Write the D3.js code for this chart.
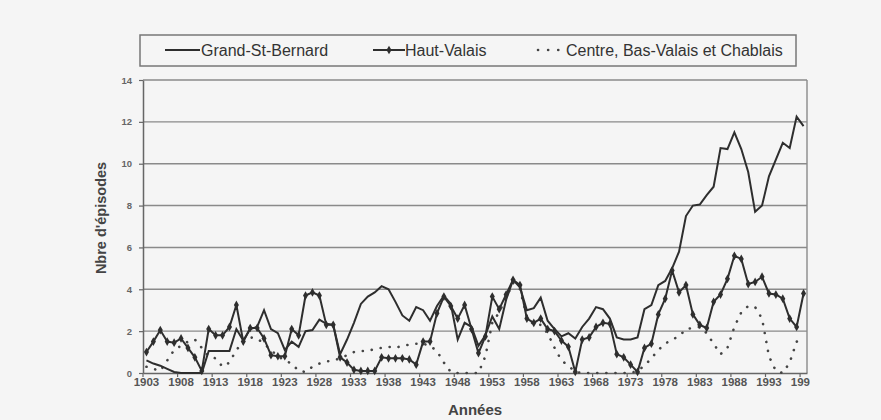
<!DOCTYPE html>
<html>
<head>
<meta charset="utf-8">
<script src="https://cdn.jsdelivr.net/npm/d3@7"></script>
<style>
  body { margin: 0; background: #f5f5f5; }
  svg { display: block; font-family: "Liberation Sans", Arial, sans-serif; }
</style>
</head>
<body>
<div class="chart-container"></div>
<script>
var width = 881;
var height = 420;

var years = d3.range(1903, 1999);
var tickYears = [1903, 1908, 1913, 1918, 1923, 1928, 1933, 1938, 1943, 1948, 1953, 1958, 1963, 1968, 1973, 1978, 1983, 1988, 1993, 1998];
var yTicks = [0, 2, 4, 6, 8, 10, 12, 14];
var seriesNames = ["Grand-St-Bernard", "Haut-Valais", "Centre, Bas-Valais et Chablais"];

var grandStBernard = [
  0.6, 0.45, 0.35, 0.2, 0.05, 0, 0, 0, 0, 1.05,
  1.05, 1.05, 1.05, 2.1, 1.55, 2.1, 2.2, 3.0, 2.1, 1.9,
  1.1, 1.5, 1.25, 2.0, 2.05, 2.55, 2.35, 2.3, 0.9, 1.6,
  2.4, 3.3, 3.65, 3.85, 4.15, 4.0, 3.4, 2.75, 2.5, 3.15,
  3.0, 2.5, 3.2, 3.7, 3.3, 1.6, 2.4, 2.2, 1.3, 1.8,
  2.7, 2.1, 3.5, 4.45, 4.1, 3.0, 3.1, 3.6, 2.5, 2.1,
  1.75, 1.9, 1.65, 2.2, 2.6, 3.15, 3.05, 2.6, 1.7, 1.6,
  1.6, 1.7, 3.05, 3.25, 4.2, 4.4, 5.0, 5.8, 7.5, 8.0,
  8.05, 8.5, 8.9, 10.75, 10.7, 11.5, 10.7, 9.6, 7.7, 8.0,
  9.4, 10.2, 11.0, 10.75, 12.25, 11.8
];
var hautValais = [
  1.0, 1.5, 2.05, 1.5, 1.45, 1.65, 1.2, 0.75, 0.1, 2.1,
  1.8, 1.8, 2.2, 3.25, 1.5, 2.15, 2.15, 1.65, 0.85, 0.8,
  0.8, 2.1, 1.8, 3.7, 3.85, 3.7, 2.3, 2.3, 0.75, 0.5,
  0.15, 0.1, 0.1, 0.1, 0.75, 0.7, 0.7, 0.7, 0.65, 0.4,
  1.5, 1.5, 2.85, 3.65, 3.2, 2.6, 3.25, 2.1, 0.95, 1.75,
  3.65, 3.05, 3.75, 4.45, 4.2, 2.6, 2.4, 2.6, 2.1, 2.0,
  1.55, 1.25, 0.05, 1.6, 1.7, 2.2, 2.4, 2.35, 0.9, 0.75,
  0.4, 0.05, 1.2, 1.4, 2.8, 3.55, 4.9, 3.85, 4.2, 2.8,
  2.3, 2.15, 3.4, 3.75, 4.5, 5.6, 5.45, 4.25, 4.35, 4.6,
  3.8, 3.75, 3.55, 2.6, 2.2, 3.8
];
var centreBasValais = [
  0.3, 0.2, 0.1, 0.6, 1.1, 1.3, 1.5, 1.6, 1.2, 0.8,
  0.7, 0.3, 0.5, 1.1, 1.5, 1.7, 1.65, 1.4, 1.1, 0.8,
  0.6, 0.45, 0.1, 0.05, 0.3, 0.45, 0.55, 0.6, 0.7, 0.85,
  1.0, 1.05, 1.05, 1.15, 1.2, 1.25, 1.2, 1.3, 1.35, 1.4,
  1.4, 1.3, 1.05, 0.5, 0.05, 0, 0, 0, 0, 0.8,
  2.4, 2.9, 3.6, 4.3, 4.0, 2.7, 2.3, 2.3, 1.9, 1.2,
  0.6, 0.35, 0.05, 0, 0, 0, 0, 0, 0, 0,
  0, 0.1, 0.35, 0.7, 1.1, 1.4, 1.6, 1.75, 2.1, 2.15,
  2.2, 1.9, 1.4, 0.9, 1.2, 2.2, 2.9, 3.2, 3.15, 2.6,
  0.8, 0.1, 0, 0.5, 1.5, 1.6
];

var plot = { left: 143, right: 807, top: 80, bottom: 373 };
var ink = "#2e2e2e";
var gridColor = "#8a8a8a";

var svg = d3
  .select(".chart-container")
  .append("svg")
  .attr("width", width)
  .attr("height", height);

svg.append("rect").attr("width", width).attr("height", height).attr("fill", "#f5f5f5");

var x = d3.scaleBand().domain(years).range([plot.left, plot.right]).paddingInner(0).paddingOuter(0);
var y = d3.scaleLinear().domain([0, 14]).range([plot.bottom, plot.top]);
var bw = x.bandwidth();
var cx = function (yr) { return x(yr) + bw / 2; };

// gridlines
svg.append("g")
  .selectAll("line")
  .data(yTicks.filter(function (d) { return d > 0; }))
  .enter()
  .append("line")
  .attr("x1", plot.left)
  .attr("x2", plot.right)
  .attr("y1", function (d) { return y(d); })
  .attr("y2", function (d) { return y(d); })
  .style("stroke", gridColor)
  .style("stroke-width", 1.4);

// right border of plot area
svg.append("line")
  .attr("x1", plot.right).attr("x2", plot.right)
  .attr("y1", plot.top).attr("y2", plot.bottom)
  .style("stroke", gridColor).style("stroke-width", 1.4);

// y axis
var yAxis = svg.append("g")
  .attr("transform", "translate(" + plot.left + ",0)")
  .call(d3.axisLeft(y).tickValues(yTicks).tickSize(4).tickSizeOuter(0).tickPadding(7));
yAxis.select(".domain").style("stroke", "#666").style("stroke-width", 1.5);
yAxis.selectAll(".tick line").style("stroke", "#666").style("stroke-width", 1.2);
yAxis.selectAll("text")
  .style("font-size", "9.5px")
  .style("font-weight", "bold")
  .style("fill", "#666")
  .style("font-family", "Liberation Sans, Arial, sans-serif");

// x axis, labels clipped at the right like the original
svg.append("clipPath").attr("id", "xclip")
  .append("rect").attr("x", 0).attr("y", -5).attr("width", 810).attr("height", 40);

var xAxis = svg.append("g")
  .attr("transform", "translate(0," + plot.bottom + ")")
  .attr("clip-path", "url(#xclip)")
  .call(d3.axisBottom(x).tickValues(tickYears).tickSize(4).tickSizeOuter(0).tickPadding(1));
xAxis.select(".domain").style("stroke", "#666").style("stroke-width", 1.5);
xAxis.selectAll(".tick line")
  .attr("x1", -bw / 2).attr("x2", -bw / 2)
  .style("stroke", "#666").style("stroke-width", 1.2);
xAxis.selectAll("text")
  .style("font-size", "11.5px")
  .style("font-weight", "bold")
  .style("fill", "#555")
  .style("font-family", "Liberation Sans, Arial, sans-serif");

// axis titles
svg.append("text")
  .attr("transform", "translate(106,218) rotate(-90)")
  .attr("text-anchor", "middle")
  .style("font-size", "14.5px")
  .style("font-weight", "bold")
  .style("fill", "#444")
  .text("Nbre d'épisodes");

svg.append("text")
  .attr("x", (plot.left + plot.right) / 2)
  .attr("y", 415)
  .attr("text-anchor", "middle")
  .style("font-size", "15px")
  .style("font-weight", "bold")
  .style("fill", "#444")
  .text("Années");

// series
var line = d3.line()
  .x(function (d, i) { return cx(years[i]); })
  .y(function (d) { return y(d); });

svg.append("path")
  .attr("d", line(centreBasValais))
  .style("fill", "none")
  .style("stroke", "#444")
  .style("stroke-width", 2.6)
  .style("stroke-linecap", "round")
  .style("stroke-dasharray", "0.1,9");

svg.append("path")
  .attr("d", line(hautValais))
  .style("fill", "none")
  .style("stroke", ink)
  .style("stroke-width", 2);

svg.append("g")
  .selectAll("path")
  .data(hautValais)
  .enter()
  .append("path")
  .attr("d", d3.symbol().type(d3.symbolDiamond).size(22))
  .attr("transform", function (d, i) { return "translate(" + cx(years[i]) + "," + y(d) + ")"; })
  .style("fill", ink);

svg.append("path")
  .attr("d", line(grandStBernard))
  .style("fill", "none")
  .style("stroke", ink)
  .style("stroke-width", 2);

// legend
var legend = svg.append("g");
legend.append("rect")
  .attr("x", 140).attr("y", 35).attr("width", 656).attr("height", 31)
  .style("fill", "none").style("stroke", "#777").style("stroke-width", 1.5);

var ly = 50;
legend.append("line").attr("x1", 165).attr("x2", 200).attr("y1", ly).attr("y2", ly)
  .style("stroke", ink).style("stroke-width", 2);
legend.append("line").attr("x1", 373).attr("x2", 405).attr("y1", ly).attr("y2", ly)
  .style("stroke", ink).style("stroke-width", 2);
legend.append("path").attr("d", d3.symbol().type(d3.symbolDiamond).size(22))
  .attr("transform", "translate(389," + ly + ")").style("fill", ink);
legend.append("line").attr("x1", 538).attr("x2", 562).attr("y1", ly).attr("y2", ly)
  .style("stroke", "#444").style("stroke-width", 2.6)
  .style("stroke-linecap", "round").style("stroke-dasharray", "0.1,10");

legend.selectAll("text")
  .data(seriesNames)
  .enter()
  .append("text")
  .attr("x", function (d, i) { return [201, 405, 566][i]; })
  .attr("y", ly + 5.5)
  .style("font-size", "16px")
  .style("fill", "#333")
  .text(function (d) { return d; });
</script>
</body>
</html>
